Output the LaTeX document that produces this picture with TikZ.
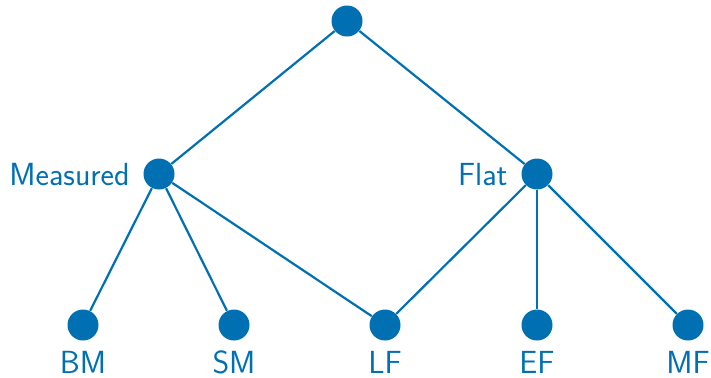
\documentclass[tikz,border=0pt]{standalone}
\definecolor{nodeblue}{RGB}{0,112,178}
\begin{document}
\begin{tikzpicture}[x=0.5pt,y=-0.5pt,
  dot/.style={circle,fill=nodeblue,inner sep=0pt,minimum size=15.5pt},
  lbl/.style={text=nodeblue,font=\sffamily\fontsize{16}{19}\selectfont,inner sep=0pt},
  edge/.style={draw=nodeblue,line width=1.1pt}]
\useasboundingbox (0,0) rectangle (711,377);
\node[dot] (top) at (347,21) {};
\node[dot] (m) at (159,174) {};
\node[dot] (f) at (537,174) {};
\node[dot] (bm) at (83,325) {};
\node[dot] (sm) at (234,325) {};
\node[dot] (lf) at (385,325) {};
\node[dot] (ef) at (537,325) {};
\node[dot] (mf) at (688,325) {};
\node[lbl,anchor=east] (ml) at (130,175) {Measured};
\node[lbl,anchor=east] (fl) at (508,175) {Flat};
\node[lbl] (bml) at (83,362) {BM};
\node[lbl] (sml) at (234,362) {SM};
\node[lbl] (lfl) at (385,362) {LF};
\node[lbl] (efl) at (537,362) {EF};
\node[lbl] (mfl) at (688,362) {MF};
\draw[edge] (top) -- (m);
\draw[edge] (top) -- (f);
\draw[edge] (m) -- (bm);
\draw[edge] (m) -- (sm);
\draw[edge] (m) -- (lf);
\draw[edge] (f) -- (lf);
\draw[edge] (f) -- (ef);
\draw[edge] (f) -- (mf);
\end{tikzpicture}
\end{document}
